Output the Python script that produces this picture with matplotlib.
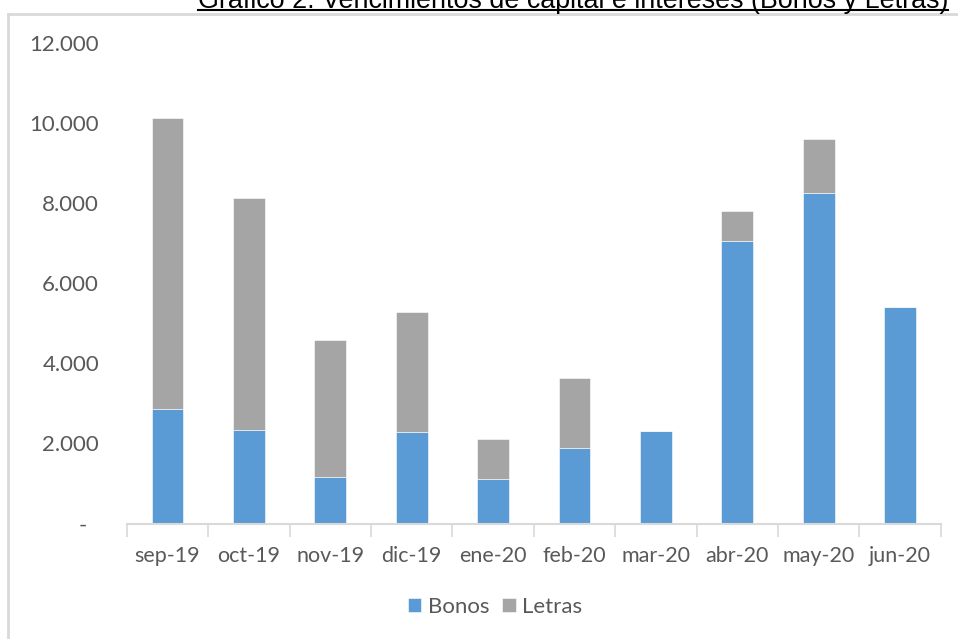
import matplotlib
matplotlib.use("Agg")
import matplotlib.pyplot as plt
from matplotlib.lines import Line2D
from matplotlib.ticker import FixedLocator, FuncFormatter
import numpy as np

categories = ["sep-19", "oct-19", "nov-19", "dic-19", "ene-20",
              "feb-20", "mar-20", "abr-20", "may-20", "jun-20"]
bonos = [2860, 2340, 1150, 2280, 1120, 1890, 2310, 7050, 8270, 5410]
letras = [7265, 5805, 3430, 3010, 1000, 1740, 0, 750, 1350, 0]
yticks = [0, 2000, 4000, 6000, 8000, 10000, 12000]
title = "Gráfico 2. Vencimientos de capital e intereses (Bonos y Letras)"

W, H = 958, 639
fig = plt.figure(figsize=(W / 100, H / 100), dpi=100)
ax = fig.add_axes([126.8 / W, 1 - 523.5 / H, 814 / W, (523.5 - 43.3) / H])

font = "Lato"
tcol = "#595959"
fs = 15.5

x = np.arange(len(categories))
ax.bar(x, bonos, width=0.39, color="#5B9BD5", edgecolor="white", linewidth=0.4, label="Bonos", zorder=2)
ax.bar(x, letras, width=0.39, bottom=bonos, color="#A5A5A5", edgecolor="white", linewidth=0.4, label="Letras", zorder=2)

ax.set_xlim(-0.5, len(categories) - 0.5)
ax.set_ylim(0, 12000)

for s in ["top", "right", "left"]:
    ax.spines[s].set_visible(False)
ax.spines["bottom"].set_color("#d9d9d9")
ax.spines["bottom"].set_linewidth(1.5)

ax.yaxis.set_major_locator(FixedLocator(yticks))
def yfmt(v, p):
    if v == 0:
        return "-  "
    return f"{int(v):,}".replace(",", ".")
ax.yaxis.set_major_formatter(FuncFormatter(yfmt))
ax.tick_params(axis="y", length=0, pad=20, labelsize=16, labelcolor=tcol)
for t in ax.get_yticklabels():
    t.set_fontfamily(font)

ax.set_xticks(x)
ax.set_xticklabels(categories, fontfamily=font)
ax.tick_params(axis="x", which="major", length=0, pad=16, labelsize=fs, labelcolor=tcol)
ax.set_xticks(np.arange(-0.5, len(categories) + 0.5, 1), minor=True)
ax.tick_params(axis="x", which="minor", length=9, width=1.2, color="#d9d9d9")

leg = fig.legend(loc="center", bbox_to_anchor=(495 / W, 1 - 607 / H), ncol=2, frameon=False,
                 prop={"family": font, "size": 16}, handlelength=0.6, handleheight=0.6,
                 handletextpad=0.3, columnspacing=0.6)
for t in leg.get_texts():
    t.set_color(tcol)

# title (partially cut at top) with underline
fig.text(948 / W, 1 - 7.5 / H, title, ha="right", va="baseline",
         fontfamily="Liberation Sans", fontsize=19.4, color="black")
fig.add_artist(Line2D([198 / W, 948 / W], [1 - 9.5 / H, 1 - 9.5 / H],
                      transform=fig.transFigure, color="black", lw=1.5))

# frame lines
fig.add_artist(Line2D([8 / W, 1], [1 - 14 / H, 1 - 14 / H], transform=fig.transFigure,
                      color="#d9d9d9", lw=2))
fig.add_artist(Line2D([8 / W, 8 / W], [0, 1 - 14 / H], transform=fig.transFigure,
                      color="#d9d9d9", lw=2))

fig.savefig("out.png", dpi=100)
